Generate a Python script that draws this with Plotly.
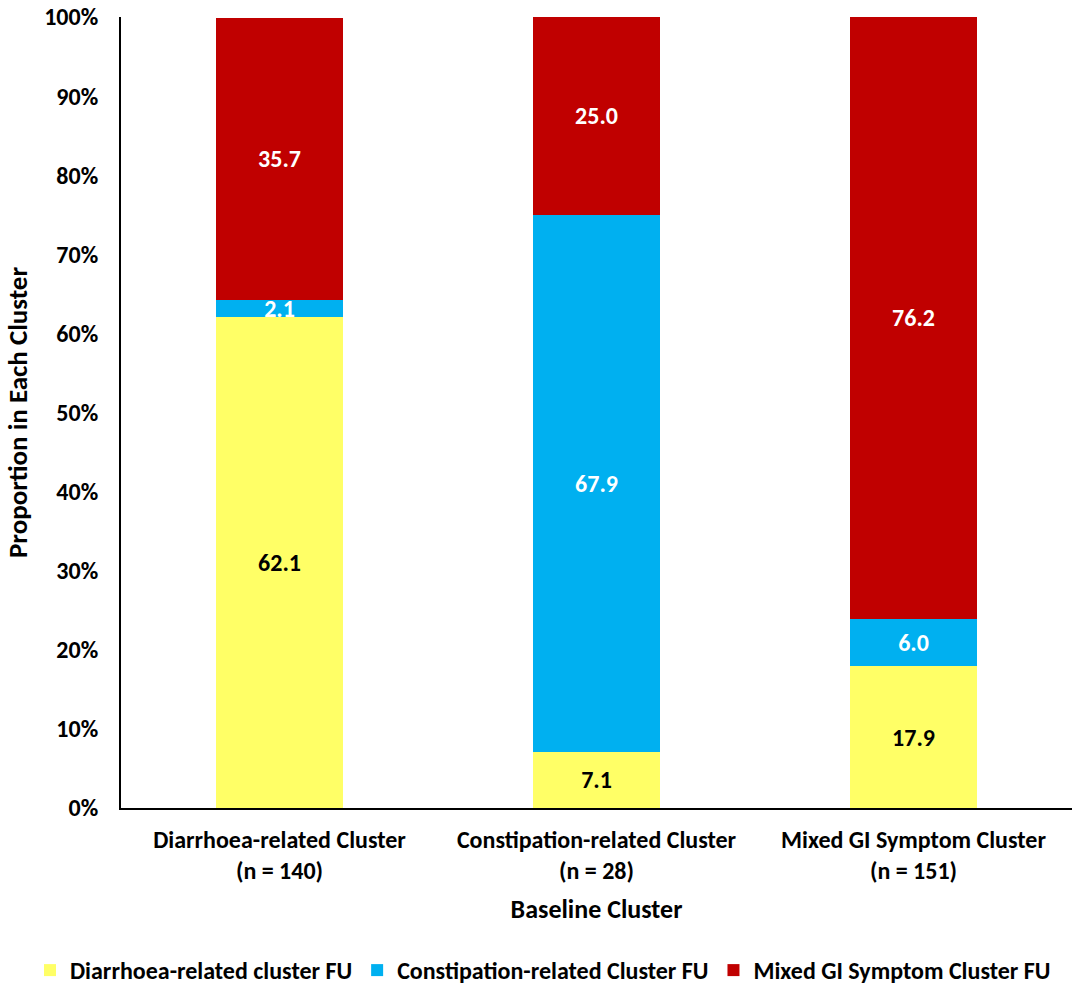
import plotly.graph_objects as go

categories = ["Diarrhoea-related Cluster<br>(n = 140)",
              "Constipation-related Cluster<br>(n = 28)",
              "Mixed GI Symptom Cluster<br>(n = 151)"]
series_names = ["Diarrhoea-related cluster FU",
                "Constipation-related Cluster FU",
                "Mixed GI Symptom Cluster FU"]
diarrhoea_fu = [62.1, 7.1, 17.9]
constipation_fu = [2.1, 67.9, 6.0]
mixed_fu = [35.7, 25.0, 76.2]
tick_vals = [0, 10, 20, 30, 40, 50, 60, 70, 80, 90, 100]

colors = ["#FFFF66", "#00B0F0", "#C00000"]
text_colors = ["black", "white", "white"]
FONT = "Carlito, Calibri, Lato, Arial, sans-serif"

fig = go.Figure()
for name, vals, c, tc in zip(series_names, [diarrhoea_fu, constipation_fu, mixed_fu], colors, text_colors):
    fig.add_trace(go.Bar(
        x=categories, y=vals, name=f"<b>{name}</b>", marker=dict(color=c, line=dict(width=0)),
        text=[f"{v:.1f}" for v in vals], textposition="inside", insidetextanchor="middle",
        texttemplate="<b>%{text}</b>",
        textfont=dict(color=tc, size=24, family=FONT), cliponaxis=True,
    ))

fig.update_layout(
    barmode="stack", bargap=0.6,
    width=1072, height=993,
    margin=dict(l=121, r=0, t=17, b=185),
    plot_bgcolor="white", paper_bgcolor="white",
    font=dict(family=FONT, size=22, color="black"),
    uniformtext=dict(minsize=24, mode="show"),
    showlegend=True,
    legend=dict(orientation="h", x=-0.0957, xanchor="left", y=-0.2061, yanchor="middle",
                font=dict(size=24), traceorder="normal", itemwidth=30, tracegroupgap=0),
    xaxis=dict(showline=True, linecolor="black", linewidth=2, ticks="", automargin=False,
               tickvals=categories, ticktext=[f"<b>{c}</b>" for c in categories],
               ticklabelstandoff=9,
               title=dict(text="<b>Baseline Cluster</b>", font=dict(size=26), standoff=16),
               tickfont=dict(size=24)),
    yaxis=dict(range=[0, 100], tickvals=tick_vals, ticktext=[f"<b>{v}%</b>" for v in tick_vals],
               showline=True, linecolor="black", linewidth=2, showgrid=False, zeroline=False,
               ticks="", automargin="left", ticklabelstandoff=16, ticklabeloverflow="allow",
               tickfont=dict(size=24),
               title=dict(text="<b>Proportion in Each Cluster</b>", font=dict(size=27), standoff=9)),
)

fig.write_html("out.html", config={"displayModeBar": False},
               post_script="document.body.style.margin='0';")
